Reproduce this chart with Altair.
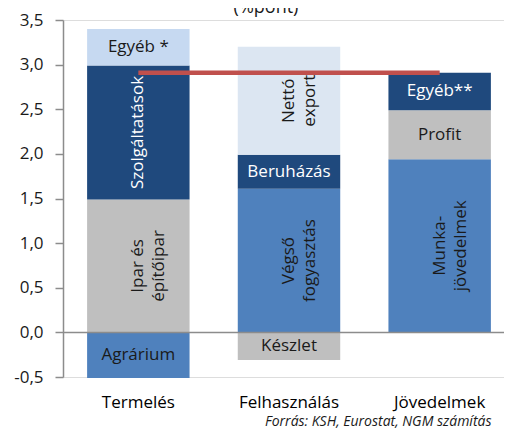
import altair as alt
import pandas as pd

FONT = "Open Sans"

categories = ["Termelés", "Felhasználás", "Jövedelmek"]
seg_category = ["Termelés"] * 4 + ["Felhasználás"] * 4 + ["Jövedelmek"] * 3
seg_label = ["Agrárium", "Ipar és\népítőipar", "Szolgáltatások", "Egyéb *",
             "Készlet", "Végső\nfogyasztás", "Beruházás", "Nettó\nexport",
             "Munka-\njövedelmek", "Profit", "Egyéb**"]
seg_value = [-0.51, 1.49, 1.50, 0.41,
             -0.31, 1.61, 0.38, 1.21,
             1.94, 0.55, 0.42]
gdp_growth = 2.91
y_ticks = [-0.5, 0.0, 0.5, 1.0, 1.5, 2.0, 2.5, 3.0, 3.5]

# styles
DARK, MID, GRAY, LIGHT, PALE = "#1F497D", "#4F81BD", "#BFBFBF", "#C6D9F1", "#DCE6F2"
seg_fill = {"Agrárium": MID, "Ipar és\népítőipar": GRAY, "Szolgáltatások": DARK, "Egyéb *": LIGHT,
            "Készlet": GRAY, "Végső\nfogyasztás": MID, "Beruházás": DARK, "Nettó\nexport": PALE,
            "Munka-\njövedelmek": MID, "Profit": GRAY, "Egyéb**": DARK}
rotated = {"Ipar és\népítőipar", "Szolgáltatások", "Végső\nfogyasztás", "Nettó\nexport", "Munka-\njövedelmek"}

rows = []
pos_top = {c: 0.0 for c in categories}
neg_bot = {c: 0.0 for c in categories}
for c, lab, v in zip(seg_category, seg_label, seg_value):
    if v >= 0:
        s, e = pos_top[c], pos_top[c] + v
        pos_top[c] = e
    else:
        s, e = neg_bot[c], neg_bot[c] + v
        neg_bot[c] = e
    fill = seg_fill[lab]
    rows.append({"cat": c, "label": lab, "start": s, "end": e, "mid": (s + e) / 2,
                 "fill": fill, "tcol": "#FFFFFF" if fill == DARK else "#1A1A1A",
                 "rot": lab in rotated})
df = pd.DataFrame(rows)
df_h = df[~df["rot"]]
df_r = df[df["rot"]]

xscale = alt.Scale(domain=categories, range=[0, 452], paddingInner=0.32, paddingOuter=0.16)
xenc = alt.X("cat:N", sort=categories, scale=xscale,
             axis=alt.Axis(title=None, domain=False, ticks=False, labelAngle=0, labelPadding=17,
                           labelFontSize=17, labelColor="#000000", labelFont=FONT))
yscale = alt.Scale(domain=[-0.5, 3.5], nice=False, zero=False)

bars = alt.Chart(df).mark_bar().encode(
    x=xenc,
    y=alt.Y("start:Q", scale=yscale,
            axis=alt.Axis(title=None, grid=False, values=y_ticks, domainColor="#8C8C8C",
                          domainWidth=1.5, tickColor="#8C8C8C", tickWidth=1.5, tickSize=8,
                          labelFontSize=17, labelFont=FONT, labelColor="#1A1A1A", labelPadding=12,
                          labelExpr="replace(replace(format(datum.value, '.1f'), '.', ','), '\u2212', '-')")),
    y2="end:Q",
    color=alt.Color("fill:N", scale=None),
)

zero = alt.Chart(pd.DataFrame({"z": [0.0]})).mark_rule(color="#8C8C8C", strokeWidth=1.5).encode(
    y=alt.Y("z:Q", scale=yscale))

line_df = pd.DataFrame({"cat": [categories[0], categories[2]], "v": [gdp_growth, gdp_growth]})
redline = alt.Chart(line_df).mark_line(color="#C0504D", strokeWidth=4.5, strokeCap="butt").encode(
    x=alt.X("cat:N", sort=categories, scale=xscale), y=alt.Y("v:Q", scale=yscale))

txt_h = alt.Chart(df_h).mark_text(font=FONT, fontSize=17, align="center", baseline="middle").encode(
    x=alt.X("cat:N", sort=categories, scale=xscale), y=alt.Y("mid:Q", scale=yscale),
    text="label:N", color=alt.Color("tcol:N", scale=None))

txt_r = alt.Chart(df_r).mark_text(font=FONT, fontSize=17, align="center", baseline="middle",
                                  angle=270, lineBreak="\n", lineHeight=21).encode(
    x=alt.X("cat:N", sort=categories, scale=xscale), y=alt.Y("mid:Q", scale=yscale),
    text="label:N", color=alt.Color("tcol:N", scale=None))

title = alt.Chart(pd.DataFrame({"t": ["(%pont)"]})).mark_text(
    font=FONT, fontSize=18, align="center", baseline="middle", color="#1A1A1A").encode(
    x=alt.value(203), y=alt.value(-12), text="t:N")

source = alt.Chart(pd.DataFrame({"t": ["Forrás: KSH, Eurostat, NGM számítás"]})).mark_text(
    font=FONT, fontSize=14, fontStyle="italic", align="left", baseline="middle", color="#1A1A1A").encode(
    x=alt.value(202), y=alt.value(402), text="t:N")

chart = alt.layer(bars, zero, redline, txt_h, txt_r, title, source).properties(
    width=441, height=357,
    padding={"left": 55, "top": 12, "right": 0, "bottom": 52},
    autosize=alt.AutoSizeParams(type="none"),
).configure_view(stroke=None).configure(background="white")

chart.save("out.html", embed_options={"renderer": "svg", "actions": False})
